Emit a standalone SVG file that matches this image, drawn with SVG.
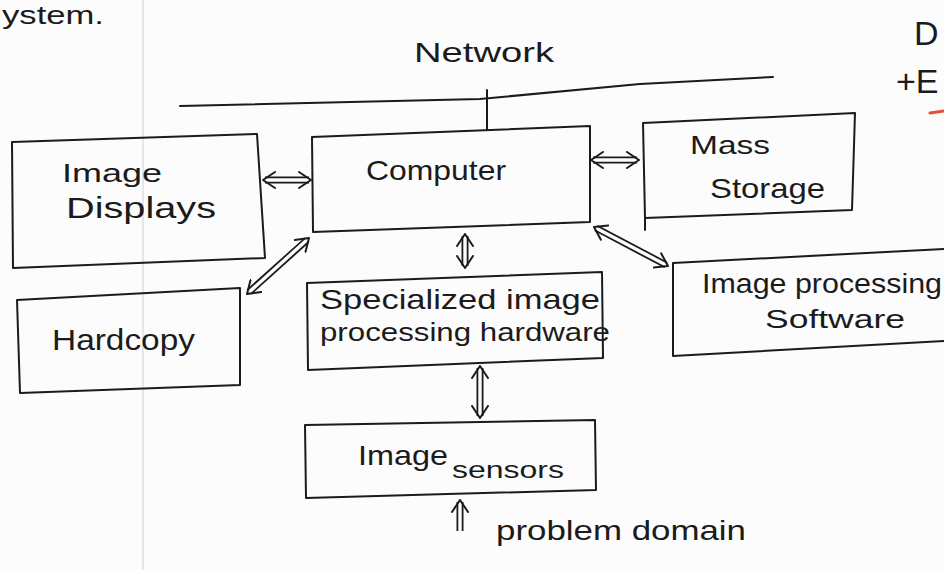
<svg xmlns="http://www.w3.org/2000/svg" width="944" height="570" viewBox="0 0 944 570">
<style>
.box{fill:none;stroke:#1b1b1b;stroke-width:2;stroke-linejoin:round;stroke-linecap:round}
.ln{fill:none;stroke:#1b1b1b;stroke-width:2;stroke-linecap:round}
.t{font-family:"Liberation Sans","DejaVu Sans",sans-serif;fill:#1b1b1b}
.sh-o{fill:none;stroke:#1b1b1b;stroke-width:7;stroke-linecap:butt}
.sh-i{fill:none;stroke:#fdfcfd;stroke-width:3.4;stroke-linecap:butt}
.hd{fill:none;stroke:none;marker-start:url(#chev);marker-end:url(#chev)}
.hd1{fill:none;stroke:none;marker-end:url(#chev)}
</style>
<defs>
<marker id="chev" viewBox="0 0 14 18" refX="13" refY="9" markerWidth="14" markerHeight="18" markerUnits="userSpaceOnUse" orient="auto-start-reverse">
<path d="M1,1 L13,9 L1,17" fill="none" stroke="#1b1b1b" stroke-width="2" stroke-linecap="round" stroke-linejoin="round"/>
</marker>
</defs>
<rect width="944" height="570" fill="#fdfcfd"/>
<line x1="143" y1="0" x2="143" y2="570" stroke="#cfcdd6" stroke-width="1"/>

<text class="t" x="2" y="24" font-size="26" textLength="102" lengthAdjust="spacingAndGlyphs">ystem.</text>
<text class="t" x="914" y="45" font-size="34">D</text>
<text class="t" x="896" y="93" font-size="34">+E</text>
<line x1="930" y1="113" x2="944" y2="111" stroke="#e2522e" stroke-width="3" stroke-linecap="round"/>

<g id="network">
<text class="t" x="414" y="62" font-size="28" textLength="140" lengthAdjust="spacingAndGlyphs">Network</text>
<path class="ln" d="M180,106 L480,99 L640,84 L773,77"/>
<path class="ln" d="M487,90 L487,130"/>
</g>

<g id="image-displays">
<path class="box" d="M12,142 L257,134 L265,258 L13,268 Z"/>
<text class="t" x="62" y="182" font-size="26" textLength="100" lengthAdjust="spacingAndGlyphs">Image</text>
<text class="t" x="66" y="218" font-size="30" textLength="150" lengthAdjust="spacingAndGlyphs">Displays</text>
</g>

<g id="computer">
<path class="box" d="M312,137 L590,126 L590,222 L313,232 Z"/>
<text class="t" x="366" y="180" font-size="28" textLength="140" lengthAdjust="spacingAndGlyphs">Computer</text>
</g>

<g id="mass-storage">
<path class="box" d="M643,123 L855,113 L852,210 L645,218 Z"/>
<line class="ln" x1="645" y1="218" x2="645" y2="230"/>
<text class="t" x="690" y="154" font-size="26" textLength="80" lengthAdjust="spacingAndGlyphs">Mass</text>
<text class="t" x="710" y="198" font-size="28" textLength="115" lengthAdjust="spacingAndGlyphs">Storage</text>
</g>

<g id="hardcopy">
<path class="box" d="M17,300 L240,288 L240,385 L20,393 Z"/>
<text class="t" x="52" y="350" font-size="30" textLength="143" lengthAdjust="spacingAndGlyphs">Hardcopy</text>
</g>

<g id="specialized-hardware">
<path class="box" d="M307,283 L602,272 L603,358 L308,370 Z"/>
<text class="t" x="320" y="309" font-size="28" textLength="280" lengthAdjust="spacingAndGlyphs">Specialized image</text>
<text class="t" x="320" y="341" font-size="26" textLength="290" lengthAdjust="spacingAndGlyphs">processing hardware</text>
</g>

<g id="image-processing-software">
<path class="box" d="M673,263 L944,249 M673,263 L673,356 L944,341"/>
<text class="t" x="702" y="293" font-size="28" textLength="240" lengthAdjust="spacingAndGlyphs">Image processing</text>
<text class="t" x="765" y="328" font-size="26" textLength="140" lengthAdjust="spacingAndGlyphs">Software</text>
</g>

<g id="image-sensors">
<path class="box" d="M305,425 L595,420 L596,490 L306,498 Z"/>
<text class="t" x="358" y="465" font-size="28" textLength="90" lengthAdjust="spacingAndGlyphs">Image</text>
<text class="t" x="452" y="478" font-size="24" textLength="112" lengthAdjust="spacingAndGlyphs">sensors</text>
</g>

<g id="problem-domain">
<text class="t" x="496" y="540" font-size="28" textLength="250" lengthAdjust="spacingAndGlyphs">problem domain</text>
</g>

<g id="connectors">
<path class="sh-o" d="M265,180 L309,180"/><path class="sh-i" d="M263,180 L311,180"/><path class="hd" d="M263,180 L311,180"/>
<path class="sh-o" d="M593,160 L637,160"/><path class="sh-i" d="M591,160 L639,160"/><path class="hd" d="M591,160 L639,160"/>
<path class="sh-o" d="M465,236 L465,266"/><path class="sh-i" d="M465,234 L465,268"/><path class="hd" d="M465,234 L465,268"/>
<path class="sh-o" d="M307,240 L249,292"/><path class="sh-i" d="M309,238 L247,294"/><path class="hd" d="M309,238 L247,294"/>
<path class="sh-o" d="M596,228 L666,265"/><path class="sh-i" d="M594,227 L668,266"/><path class="hd" d="M594,227 L668,266"/>
<path class="sh-o" d="M480,368 L480,416"/><path class="sh-i" d="M480,366 L480,418"/><path class="hd" d="M480,366 L480,418"/>
<path class="sh-o" d="M460,531 L460,502"/><path class="sh-i" d="M460,533 L460,500"/><path class="hd1" d="M460,533 L460,500"/>
</g>
</svg>
